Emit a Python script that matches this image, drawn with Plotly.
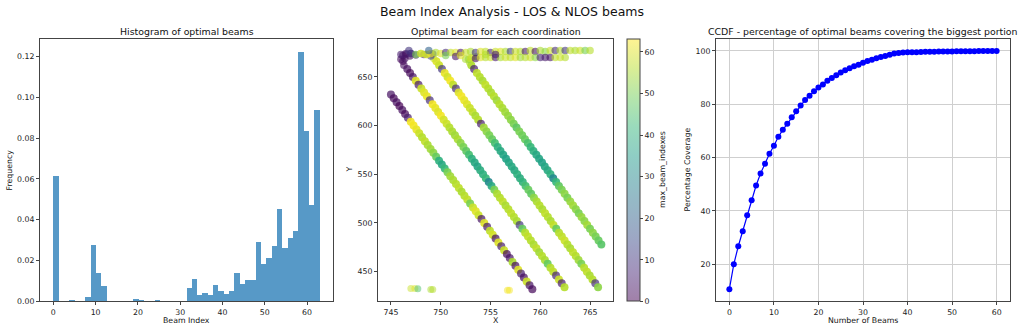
import numpy as np
import plotly.graph_objects as go
import plotly.colors as pc

# ---------------- Data ----------------
# Histogram of optimal beams (density, 50 bins over 0..63)
hist_density = [0.0613, 0.0, 0.0, 0.0008, 0.0003, 0.0005, 0.0023, 0.0277, 0.0141, 0.0078,
                0.0003, 0.0003, 0.0003, 0.0003, 0.0005, 0.0013, 0.0008, 0.0005, 0.0005, 0.0008,
                0.0003, 0.0, 0.0005, 0.0005, 0.0, 0.0065, 0.0110, 0.0033, 0.0040, 0.0033,
                0.0080, 0.0050, 0.0038, 0.0052, 0.0142, 0.0088, 0.0103, 0.0106, 0.0289, 0.0183,
                0.0212, 0.0272, 0.0453, 0.0262, 0.0312, 0.0344, 0.1220, 0.0835, 0.0472, 0.0938]
hist_range = [0, 63]

# Scatter: four diagonal tracks
lineA_y = [632, 628, 624, 620, 616, 612, 608, 604, 600, 596, 592, 588, 584, 580, 576, 572, 568, 564, 560, 556,
           552, 548, 544, 540, 536, 532, 528, 524, 520, 516, 512, 508, 504, 500, 496, 492, 488, 484, 480, 476,
           472, 468, 464, 460, 456, 452, 448, 444, 440, 436, 432]
lineA_x = [745.00, 745.28, 745.57, 745.85, 746.14, 746.42, 746.70, 746.99, 747.27, 747.56, 747.84, 748.12, 748.41,
           748.69, 748.98, 749.26, 749.54, 749.83, 750.11, 750.40, 750.68, 750.96, 751.25, 751.53, 751.82, 752.10,
           752.38, 752.67, 752.95, 753.24, 753.52, 753.80, 754.09, 754.37, 754.66, 754.94, 755.22, 755.51, 755.79,
           756.08, 756.36, 756.64, 756.93, 757.21, 757.50, 757.78, 758.06, 758.35, 758.63, 758.92, 759.20]
lineA_beam = [3, 1, 2, 0, 2, 1, 5, 62, 62, 61, 58, 56, 57, 55, 54, 52, 48, 40, 38, 42,
              50, 54, 55, 56, 57, 55, 56, 57, 50, 58, 60, 58, 3, 60, 4, 57, 59, 2, 60, 5,
              58, 1, 3, 55, 2, 60, 5, 2, 58, 3, 1]

lineB_y = [658, 654, 650, 646, 642, 638, 634, 630, 626, 622, 618, 614, 610, 606, 602, 598, 594, 590, 586, 582,
           578, 574, 570, 566, 562, 558, 554, 550, 546, 542, 538, 534, 530, 526, 522, 518, 514, 510, 506, 502,
           498, 494, 490, 486, 482, 478, 474, 470, 466, 462, 458, 454, 450, 446, 442, 438, 434]
lineB_x = [746.64, 746.92, 747.20, 747.49, 747.77, 748.05, 748.33, 748.61, 748.90, 749.18, 749.46, 749.74, 750.02,
           750.30, 750.59, 750.87, 751.15, 751.43, 751.71, 752.00, 752.28, 752.56, 752.84, 753.12, 753.41, 753.69,
           753.97, 754.25, 754.53, 754.82, 755.10, 755.38, 755.66, 755.94, 756.23, 756.51, 756.79, 757.07, 757.35,
           757.64, 757.92, 758.20, 758.48, 758.76, 759.05, 759.33, 759.61, 759.89, 760.17, 760.46, 760.74, 761.02,
           761.30, 761.58, 761.87, 762.15, 762.43]
lineB_beam = [2, 1, 3, 60, 4, 58, 60, 61, 8, 62, 61, 60, 62, 59, 58, 56, 55, 54, 55, 52,
              50, 47, 44, 40, 38, 37, 39, 40, 42, 30, 38, 50, 55, 56, 57, 55, 56, 57, 56, 55,
              10, 48, 56, 57, 56, 55, 57, 54, 56, 55, 48, 56, 57, 6, 58, 5, 56]

lineC_y = [666, 662, 658, 654, 650, 646, 642, 638, 634, 630, 626, 622, 618, 614, 610, 606, 602, 598, 594, 590,
           586, 582, 578, 574, 570, 566, 562, 558, 554, 550, 546, 542, 538, 534, 530, 526, 522, 518, 514, 510,
           506, 502, 498, 494, 490, 486, 482, 478, 474, 470, 466, 462, 458, 454, 450, 446, 442, 438, 434]
lineC_x = [749.56, 749.84, 750.12, 750.40, 750.68, 750.96, 751.24, 751.52, 751.80, 752.08, 752.36, 752.64, 752.92,
           753.20, 753.48, 753.76, 754.04, 754.32, 754.60, 754.88, 755.16, 755.44, 755.72, 756.00, 756.28, 756.56,
           756.84, 757.12, 757.40, 757.68, 757.96, 758.24, 758.52, 758.80, 759.08, 759.36, 759.64, 759.92, 760.20,
           760.48, 760.76, 761.04, 761.32, 761.60, 761.88, 762.16, 762.44, 762.72, 763.00, 763.28, 763.56, 763.84,
           764.12, 764.40, 764.68, 764.96, 765.24, 765.52, 765.80]
lineC_beam = [60, 58, 10, 61, 59, 62, 57, 8, 60, 62, 61, 60, 58, 57, 55, 56, 5, 54, 52, 50,
              48, 44, 40, 38, 37, 36, 37, 38, 38, 40, 39, 41, 44, 48, 47, 52, 55, 56, 55, 57,
              56, 55, 57, 48, 56, 57, 58, 56, 55, 57, 56, 54, 50, 56, 57, 55, 56, 8, 52]

lineD_y = [662, 658, 654, 650, 646, 642, 638, 634, 630, 626, 622, 618, 614, 610, 606, 602, 598, 594, 590, 586,
           582, 578, 574, 570, 566, 562, 558, 554, 550, 546, 542, 538, 534, 530, 526, 522, 518, 514, 510, 506,
           502, 498, 494, 490, 486, 482, 478]
lineD_x = [753.07, 753.35, 753.63, 753.92, 754.20, 754.48, 754.77, 755.05, 755.34, 755.62, 755.90, 756.19, 756.47,
           756.76, 757.04, 757.33, 757.61, 757.89, 758.18, 758.46, 758.75, 759.03, 759.31, 759.60, 759.88, 760.17,
           760.45, 760.73, 761.02, 761.30, 761.59, 761.87, 762.15, 762.44, 762.72, 763.01, 763.29, 763.57, 763.86,
           764.14, 764.43, 764.71, 764.99, 765.28, 765.56, 765.85, 766.13]
lineD_beam = [55, 5, 57, 56, 55, 57, 56, 55, 56, 54, 56, 55, 54, 53, 52, 50, 47, 50, 49, 48,
              45, 42, 40, 38, 37, 36, 37, 38, 40, 30, 42, 47, 50, 52, 50, 53, 54, 52, 50, 53,
              52, 54, 50, 52, 50, 48, 46]

# Bends at the top of the tracks and the top band
top_x = [746.3, 746.2, 746.4, 746.9, 747.5, 748.3, 749.2, 746.0, 746.5, 747.0, 746.2,
         749.3, 749.0, 748.6, 748.0, 752.9, 752.8, 753.1, 753.6,
         746.0, 746.5, 747.0, 747.5, 748.0, 748.5, 749.0, 749.5, 750.0, 750.5, 751.0, 751.5, 752.0, 752.5,
         753.0, 753.5, 754.0, 754.5, 755.0, 755.5, 756.0, 756.5, 757.0, 757.5, 758.0, 758.5, 759.0, 759.5,
         760.0, 760.5, 761.0, 761.5, 762.0, 762.5, 763.0, 763.5, 764.0, 764.5, 765.0,
         752.5, 753.0, 753.5, 754.0, 754.5, 755.0, 755.5, 756.0, 756.5, 757.0, 757.5, 758.0, 758.5, 759.0,
         759.5, 760.0, 760.5, 761.0, 761.5, 762.0, 762.5,
         750.5, 751.5, 752.0, 754.5, 755.5, 746.8, 748.8]
top_y = [662, 666, 669, 671.5, 672.5, 673, 673.5, 668, 673, 674, 672,
         669, 671.5, 673, 674, 665, 668, 670, 671,
         673, 674, 674, 673, 674, 673, 674, 675, 674, 675, 675, 675, 675, 675,
         676, 675, 676, 676, 675, 676, 676, 676, 676, 676, 676, 676, 677, 676,
         677, 676, 677, 677, 677, 677, 677, 677, 677, 677, 677,
         668, 669, 669, 670, 670, 670, 670, 670, 670, 670, 670, 670, 670, 670,
         670, 670, 670, 670, 670, 670, 670,
         672, 671, 672, 673, 673, 677, 677]
top_beam = [2, 1, 3, 2, 4, 6, 10, 2, 5, 8, 3,
            58, 12, 60, 55, 56, 52, 58, 54,
            5, 3, 8, 50, 60, 58, 62, 55, 60, 8, 57, 60, 3, 58,
            55, 10, 60, 57, 6, 58, 60, 55, 12, 58, 56, 4, 57, 3,
            55, 52, 58, 8, 56, 10, 57, 55, 58, 50, 56,
            55, 58, 3, 60, 56, 58, 4, 55, 58, 57, 60, 54, 56, 58,
            52, 6, 4, 3, 57, 58, 56,
            50, 3, 60, 56, 5, 10, 20]

# Stray points near the bottom
stray_x = [747.0, 747.4, 747.7, 749.0, 749.2, 756.7, 756.9]
stray_y = [432.8, 432.6, 432.4, 431.6, 431.6, 431.0, 431.0]
stray_beam = [58, 60, 45, 55, 56, 62, 62]

# CCDF of coverage
ccdf_beams = list(range(61))
ccdf_coverage = [10.6, 20.0, 26.7, 32.3, 38.3, 44.0, 49.5, 54.0, 57.7, 61.4,
                 64.4, 67.8, 70.4, 72.7, 75.1, 77.4, 79.5, 81.6, 83.2, 84.9,
                 86.3, 87.4, 88.8, 89.8, 90.9, 91.9, 92.7, 93.5, 94.2, 94.8,
                 95.6, 96.2, 96.7, 97.2, 97.7, 98.1, 98.6, 99.0, 99.2, 99.4,
                 99.45, 99.5, 99.5, 99.6, 99.65, 99.65, 99.7, 99.75, 99.75, 99.8,
                 99.8, 99.85, 99.85, 99.9, 99.9, 99.9, 99.95, 99.95, 99.95, 100.0, 100.0]

# ---------------- Figure ----------------
W, H = 1024, 336
FONT = "DejaVu Sans"
TICK = 7.8
LABEL = 7.8
TITLE = 9.4
SUP = 12.5


def px_x(p):
    return p / W


def px_y(p):
    return 1 - p / H


fig = go.Figure()

# Histogram bars
edges = np.linspace(hist_range[0], hist_range[1], len(hist_density) + 1)
centers = (edges[:-1] + edges[1:]) / 2
bw = edges[1] - edges[0]
fig.add_trace(go.Bar(x=centers, y=hist_density, width=bw,
                     marker=dict(color="rgba(31,119,180,0.75)", line=dict(width=0)),
                     xaxis="x", yaxis="y", showlegend=False, hoverinfo="skip"))

# Scatter: tracks (dense, nearly saturated) then the top band and strays (more transparent)
track_x = lineA_x + lineB_x + lineC_x + lineD_x
track_y = lineA_y + lineB_y + lineC_y + lineD_y
track_b = lineA_beam + lineB_beam + lineC_beam + lineD_beam
track_op = [0.7 if b < 15 else 0.9 for b in track_b]

fig.add_trace(go.Scatter(x=track_x, y=track_y, mode="markers",
                         marker=dict(color=track_b, colorscale="Viridis", cmin=0, cmax=63, size=8,
                                     opacity=track_op, line=dict(width=0), showscale=False),
                         xaxis="x2", yaxis="y2", showlegend=False, hoverinfo="skip"))
fig.add_trace(go.Scatter(x=top_x, y=top_y, mode="markers",
                         marker=dict(color=top_beam, colorscale="Viridis", cmin=0, cmax=63, size=7.5,
                                     opacity=0.6, line=dict(width=0), showscale=False),
                         xaxis="x2", yaxis="y2", showlegend=False, hoverinfo="skip"))
fig.add_trace(go.Scatter(x=stray_x, y=stray_y, mode="markers",
                         marker=dict(color=stray_beam, colorscale="Viridis", cmin=0, cmax=63, size=7,
                                     opacity=0.5, line=dict(width=0), showscale=False),
                         xaxis="x2", yaxis="y2", showlegend=False, hoverinfo="skip"))

# Pale (alpha 0.5) viridis for the colorbar
pale = []
for pos, col in pc.get_colorscale("Viridis"):
    r, g, b = pc.hex_to_rgb(col) if col.startswith("#") else pc.unlabel_rgb(col)
    pale.append([pos, "rgb(%d,%d,%d)" % (0.5 * r + 127.5, 0.5 * g + 127.5, 0.5 * b + 127.5)])

fig.add_trace(go.Scatter(x=[track_x[0]], y=[track_y[0]], mode="markers",
                         marker=dict(color=[track_b[0]], colorscale=pale, cmin=0, cmax=63, size=1, opacity=0,
                                     showscale=True,
                                     colorbar=dict(x=px_x(627), xanchor="left", y=px_y(173), yanchor="middle",
                                                   len=266 / H, lenmode="fraction", thickness=13,
                                                   thicknessmode="pixels", outlinewidth=1, outlinecolor="#444",
                                                   ticks="outside", ticklen=3, tickcolor="#444",
                                                   tickvals=[0, 10, 20, 30, 40, 50, 60],
                                                   tickfont=dict(family=FONT, size=TICK, color="#222"),
                                                   xpad=0, ypad=0)),
                         xaxis="x2", yaxis="y2", showlegend=False, hoverinfo="skip"))

# CCDF
fig.add_trace(go.Scatter(x=ccdf_beams, y=ccdf_coverage, mode="lines+markers",
                         line=dict(color="#0000ff", width=1.2),
                         marker=dict(color="#0000ff", size=6),
                         xaxis="x3", yaxis="y3", showlegend=False, hoverinfo="skip"))

ydom = [px_y(306), px_y(39.5)]
common = dict(showline=True, mirror=True, linecolor="#444", linewidth=1, ticks="outside", ticklen=3,
              tickcolor="#444", tickfont=dict(family=FONT, size=TICK, color="#222"), zeroline=False,
              showgrid=False)

fig.update_layout(
    width=W, height=H, margin=dict(l=0, r=0, t=0, b=0),
    paper_bgcolor="white", plot_bgcolor="white", bargap=0,
    font=dict(family=FONT, color="#222"),
    xaxis=dict(domain=[px_x(40), px_x(333)], anchor="y", range=[-3.15, 66.15],
               tickvals=[0, 10, 20, 30, 40, 50, 60], **common),
    yaxis=dict(domain=ydom, anchor="x", range=[0, 0.1285],
               tickvals=[0, 0.02, 0.04, 0.06, 0.08, 0.10, 0.12], tickformat=".2f", **common),
    xaxis2=dict(domain=[px_x(378), px_x(613)], anchor="y2", range=[743.7, 767.3],
                tickvals=[745, 750, 755, 760, 765], **common),
    yaxis2=dict(domain=ydom, anchor="x2", range=[419.4, 689],
                tickvals=[450, 500, 550, 600, 650], **common),
    xaxis3=dict(domain=[px_x(716), px_x(1010)], anchor="y3", range=[-3.0, 63.0],
                tickvals=[0, 10, 20, 30, 40, 50, 60], **{**common, "showgrid": True,
                                                          "gridcolor": "#cfcfcf", "gridwidth": 0.8}),
    yaxis3=dict(domain=ydom, anchor="x3", range=[6.0, 104.5],
                tickvals=[20, 40, 60, 80, 100], **{**common, "showgrid": True,
                                                   "gridcolor": "#cfcfcf", "gridwidth": 0.8}),
)

ann = []


def add_text(text, x, y, size, angle=0):
    ann.append(dict(text=text, x=px_x(x), y=px_y(y), xref="paper", yref="paper", showarrow=False,
                    xanchor="center", yanchor="middle", textangle=angle,
                    font=dict(family=FONT, size=size, color="#111")))


add_text("Beam Index Analysis - LOS & NLOS beams", 512, 11.5, SUP)
add_text("Histogram of optimal beams", 186.5, 31.5, TITLE)
add_text("Optimal beam for each coordination", 495.5, 31.5, TITLE)
add_text("CCDF - percentage of optimal beams covering the biggest portion", 863, 31.5, TITLE)
add_text("Beam Index", 186.5, 325, LABEL)
add_text("Frequency", 9.5, 172.5, LABEL, -90)
add_text("X", 495.5, 325, LABEL)
add_text("Y", 349.5, 172.5, LABEL, -90)
add_text("max_beam_indexes", 663, 172.5, LABEL, -90)
add_text("Number of Beams", 863, 325, LABEL)
add_text("Percentage Coverage", 687.5, 172.5, LABEL, -90)

fig.update_layout(annotations=ann)

fig.write_html("out.html")
